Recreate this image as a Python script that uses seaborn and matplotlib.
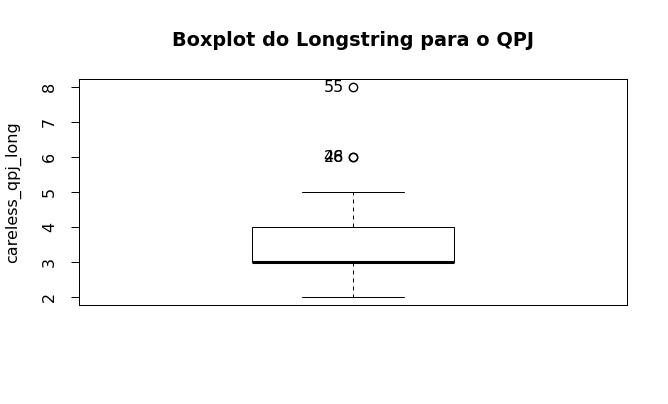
import numpy as np
import matplotlib
matplotlib.use("Agg")
import matplotlib.pyplot as plt
import seaborn as sns

# Longstring values (observation order; 1-based index used for outlier labels)
careless_qpj_long = [3, 4, 3, 2, 3, 3, 4, 5, 3, 4,
                     3, 3, 4, 3, 2, 4, 3, 3, 4, 3,
                     3, 4, 3, 3, 2, 3, 4, 6, 3, 3,
                     4, 3, 5, 3, 4, 3, 3, 2, 4, 3,
                     3, 4, 3, 3, 4, 6, 3, 4, 5, 3,
                     3, 4, 2, 3, 8, 4, 3, 5, 4, 3]
y_ticks = [2, 3, 4, 5, 6, 7, 8]
title = "Boxplot do Longstring para o QPJ"
ylabel = "careless_qpj_long"

sns.set_style("white")
plt.rcParams["font.family"] = ["DejaVu Sans"]
plt.rcParams["text.color"] = "black"
plt.rcParams["ytick.color"] = "black"
plt.rcParams["ytick.labelcolor"] = "black"

fig = plt.figure(figsize=(6.68, 4.04), dpi=100)
ax = fig.add_axes([79/668, 1-305/404, 548/668, 226/404])

lw = 0.72
sns.boxplot(y=careless_qpj_long, ax=ax, width=0.4, color="white", linecolor="black",
            linewidth=lw, fill=True,
            boxprops=dict(facecolor="white", edgecolor="black", linewidth=lw),
            medianprops=dict(color="black", linewidth=2.2),
            whiskerprops=dict(color="black", linewidth=lw, linestyle=(0, (4, 4))),
            capprops=dict(color="black", linewidth=lw),
            flierprops=dict(marker="o", markerfacecolor="none", markeredgecolor="black",
                            markersize=6, markeredgewidth=1.0))

# outlier labels
vals = np.array(careless_qpj_long, dtype=float)
q1, q3 = np.percentile(vals, [25, 75])
iqr = q3 - q1
for i, v in enumerate(vals):
    if v > q3 + 1.5*iqr or v < q1 - 1.5*iqr:
        ax.annotate(str(i+1), xy=(0, v), xytext=(-6.5, 0), textcoords="offset points",
                    ha="right", va="center", fontsize=11.5, color="black")

ax.set_xlim(-0.54, 0.54)
ax.set_ylim(1.76, 8.24)
ax.set_yticks(y_ticks)
ax.set_yticklabels([str(t) for t in y_ticks], rotation=90, va="center", fontsize=11.5)
ax.set_xticks([])
ax.tick_params(axis="y", length=5.5, width=lw, pad=10.5, color="black", labelcolor="black",
               left=True, direction="out")
for s in ax.spines.values():
    s.set_visible(True)
    s.set_color("black")
    s.set_linewidth(lw)
ax.set_ylabel("")
fig.text(13/668, 1-192/404, ylabel, rotation=90, ha="center", va="center", fontsize=11.5,
         color="black")
fig.text(353/668, 1-40/404, title, ha="center", va="center", fontsize=13.9,
         fontweight="bold", color="black")

fig.savefig("out.png", dpi=100)
